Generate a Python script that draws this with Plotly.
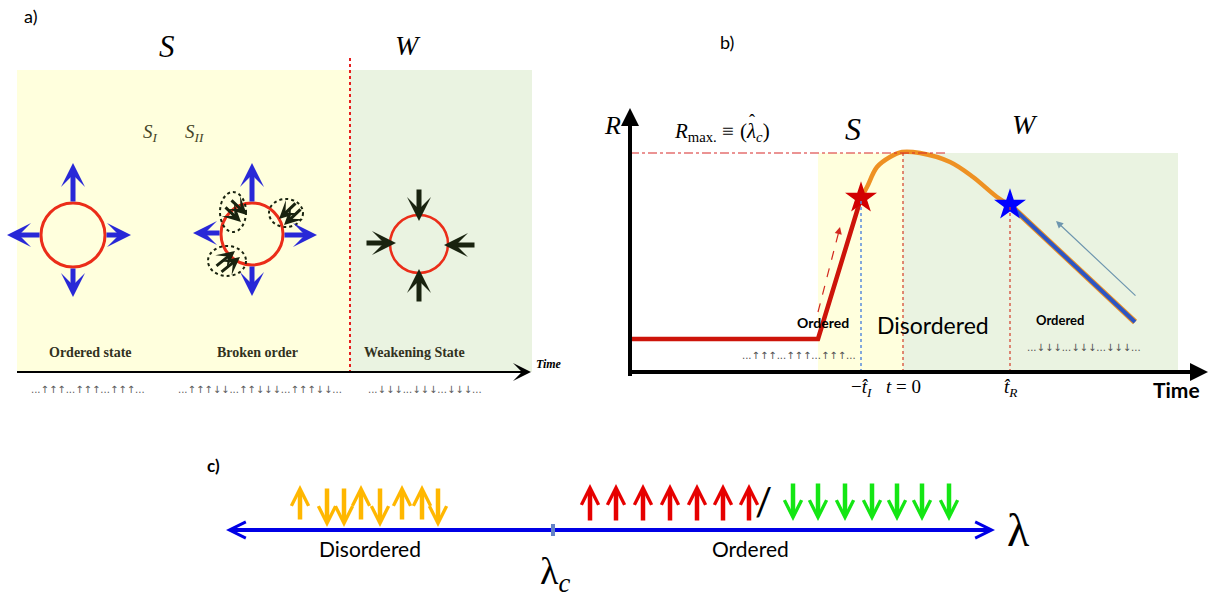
import plotly.graph_objects as go

# ---------------- data ----------------
# panel b: order parameter R versus time (arbitrary units, t = 0 at the maximum)
rise_t = [-27.3, -8.5, -4.2]
rise_R = [3.3, 3.3, 17.4]
peak_t = [-4.2, -3.6, -2.6, -1.3, -0.1, 1.7, 4.7, 7.0, 9.4, 10.7]
peak_R = [17.4, 18.5, 20.5, 21.5, 22.0, 21.9, 21.0, 19.5, 17.5, 16.7]
fall_t = [10.7, 23.2]
fall_R = [16.7, 5.0]
t_start_S, t_I, t_peak, t_R, t_end_W = -8.5, -4.2, 0.0, 10.7, 27.5
R_I, R_R, R_max = 17.4, 16.7, 21.9
tick_t = [t_I, t_peak, t_R]
tick_labels_b = ["−<i>t̂</i><sub><i>I</i></sub>", "<i>t</i> = 0", "<i>t̂</i><sub><i>R</i></sub>"]

# panel a: spin strings
spins_a = ["...↑↑↑...↑↑↑...↑↑↑...", "...↑↑↑↓↓...↑↑↓↓↓...↑↑↑↓↓...", "...↓↓↓...↓↓↓...↓↓↓..."]
labels_a = ["Ordered state", "Broken order", "Weakening State"]
# panel b spin strings
spins_b = ["...↑↑↑...↑↑↑...↑↑↑...", "...↓↓↓...↓↓↓...↓↓↓..."]

# panel c: spin configurations
disordered_spins = ["up", "down", "down", "up", "down", "up", "up", "down"]
ordered_up_spins = ["up", "up", "up", "up", "up", "up", "up"]
ordered_down_spins = ["down", "down", "down", "down", "down", "down", "down"]

# ---------------- layout constants ----------------
W, H = 1220, 604
SERIF = "Liberation Serif"
SANS = "Lato"
YEL = "rgb(255,255,221)"
GRN = "rgb(234,243,225)"

fig = go.Figure()
shapes = []
ann = []


def arrow(x0, y0, x1, y1, color, width, head=3, size=1.0, xref="x", yref="y"):
    ann.append(dict(x=x1, y=y1, ax=x0, ay=y0, xref=xref, yref=yref, axref=xref, ayref=yref,
                    showarrow=True, arrowhead=head, arrowsize=size, arrowwidth=width,
                    arrowcolor=color, text=""))


def text(x, y, s, size, family=SANS, color="black", xanchor="center", yanchor="middle", xref="x", yref="y"):
    ann.append(dict(x=x, y=y, xref=xref, yref=yref, text=s, showarrow=False,
                    font=dict(size=size, family=family, color=color), xanchor=xanchor, yanchor=yanchor))


def line(x0, y0, x1, y1, color, width, dash="solid", xref="x", yref="y", layer="above"):
    shapes.append(dict(type="line", x0=x0, y0=y0, x1=x1, y1=y1, xref=xref, yref=yref, layer=layer,
                       line=dict(color=color, width=width, dash=dash)))


def rect(x0, y0, x1, y1, fill, xref="x", yref="y"):
    shapes.append(dict(type="rect", x0=x0, y0=y0, x1=x1, y1=y1, xref=xref, yref=yref, layer="below",
                       fillcolor=fill, line=dict(width=0)))


def circle(cx, cy, rx, ry, color, width, dash="solid"):
    shapes.append(dict(type="circle", x0=cx - rx, x1=cx + rx, y0=cy - ry, y1=cy + ry, xref="x", yref="y",
                       layer="above", line=dict(color=color, width=width, dash=dash)))


# ================= panel a =================
text(30, 16, "a)", 18)
text(167, 46, "<i>S</i>", 31, SERIF)
text(408, 45, "<i>W</i>", 28, SERIF)
rect(17, 70, 350, 372, YEL)
rect(350, 70, 532, 372, GRN)
line(350, 58, 350, 372, "rgb(230,30,30)", 2, "dot")
line(17, 372, 522, 372, "black", 2)
arrow(500, 372, 531, 372, "black", 2, head=3, size=1.5)
text(549, 364, "<b><i>Time</i></b>", 12, SERIF)
text(150, 133, "<i>S</i><sub><i>I</i></sub>", 19, SERIF, "rgb(70,70,40)")
text(194, 133, "<i>S</i><sub><i>II</i></sub>", 19, SERIF, "rgb(70,70,40)")

RED = "rgb(235,45,25)"
BLUE_A = "rgb(40,40,215)"
DARK = "rgb(25,35,15)"
# ordered state
circle(73, 235, 32, 32, RED, 3)
arrow(73, 203, 73, 163, BLUE_A, 5, 3, 0.8)
arrow(73, 267, 73, 297, BLUE_A, 5, 3, 0.8)
arrow(41, 235, 7, 235, BLUE_A, 5, 3, 0.8)
arrow(105, 235, 131, 235, BLUE_A, 5, 3, 0.8)
# broken order
circle(252, 234, 31, 31, RED, 3)
arrow(252, 203, 252, 163, BLUE_A, 5, 3, 0.8)
arrow(252, 265, 252, 296, BLUE_A, 5, 3, 0.8)
arrow(221, 233, 193, 233, BLUE_A, 5, 3, 0.8)
arrow(283, 235, 317, 235, BLUE_A, 5, 3, 0.8)
circle(233, 212, 13, 20, DARK, 2, "dot")
circle(286, 213, 17, 14, DARK, 2, "dot")
circle(227, 261, 19, 15, DARK, 2, "dot")
arrow(224, 206, 241, 222, DARK, 3, 3, 1.0)
arrow(230, 199, 247, 215, DARK, 3, 3, 1.0)
arrow(297, 202, 279, 219, DARK, 3, 3, 1.0)
arrow(302, 208, 284, 225, DARK, 3, 3, 1.0)
arrow(215, 267, 235, 251, DARK, 3, 3, 1.0)
arrow(220, 273, 240, 257, DARK, 3, 3, 1.0)
# weakening state
circle(419, 244, 29, 29, RED, 2.5)
arrow(419, 188, 419, 221, DARK, 5, 3, 0.8)
arrow(419, 303, 419, 269, DARK, 5, 3, 0.8)
arrow(365, 243, 396, 243, DARK, 5, 3, 0.8)
arrow(476, 245, 444, 245, DARK, 5, 3, 0.8)

for x, s in zip([90, 257, 414], labels_a):
    text(x, 352, "<b>" + s + "</b>", 14, SERIF, "rgb(50,50,30)")
for x, s in zip([88, 260, 425], spins_a):
    text(x, 389, s, 10, "DejaVu Sans", "rgb(90,90,90)")

# ================= panel b =================
XD = [630 / W, 1205 / W]
YD = [1 - 372 / H, 1 - 118 / H]
text(727, 42, "b)", 18)
rect(t_start_S, 0, t_peak, R_max, YEL, "x2", "y2")
rect(t_peak, 0, t_end_W, R_max, GRN, "x2", "y2")
line(-27.3, R_max, 4.5, R_max, "rgb(215,40,40)", 1.2, "dashdot", "x2", "y2")
line(t_I, 0, t_I, R_I, "rgb(90,140,220)", 1.5, "dot", "x2", "y2")
line(t_peak, 0, t_peak, R_max, "rgb(210,60,40)", 1.2, "dot", "x2", "y2")
line(t_R, 0, t_R, R_R, "rgb(210,60,40)", 1.2, "dot", "x2", "y2")

fig.add_trace(go.Scatter(x=rise_t, y=rise_R, xaxis="x2", yaxis="y2", mode="lines",
                         line=dict(color="rgb(205,20,10)", width=4.5), hoverinfo="skip"))
fig.add_trace(go.Scatter(x=peak_t, y=peak_R, xaxis="x2", yaxis="y2", mode="lines", line_shape="spline",
                         line=dict(color="rgb(238,145,35)", width=4.5), hoverinfo="skip"))
fig.add_trace(go.Scatter(x=fall_t, y=fall_R, xaxis="x2", yaxis="y2", mode="lines",
                         line=dict(color="rgb(238,145,35)", width=6), hoverinfo="skip"))
fig.add_trace(go.Scatter(x=fall_t, y=fall_R, xaxis="x2", yaxis="y2", mode="lines",
                         line=dict(color="rgb(45,85,195)", width=4), hoverinfo="skip"))
fig.add_trace(go.Scatter(x=[t_I], y=[R_I], xaxis="x2", yaxis="y2", mode="markers",
                         marker=dict(symbol="star", size=24, color="rgb(210,0,0)"), hoverinfo="skip"))
fig.add_trace(go.Scatter(x=[t_R], y=[R_R], xaxis="x2", yaxis="y2", mode="markers",
                         marker=dict(symbol="star", size=24, color="rgb(0,0,255)"), hoverinfo="skip"))

# small guide arrows
line(-8.5, 6.0, -6.35, 14.3, "rgb(210,40,30)", 1.2, "dash", "x2", "y2")
arrow(-6.5, 13.7, -6.3, 14.5, "rgb(210,40,30)", 1.2, 2, 1.2, "x2", "y2")
arrow(23.4, 7.5, 15.3, 15.1, "rgb(110,150,175)", 1.2, 2, 1.2, "x2", "y2")

# axes of panel b
line(630, 376, 630, 120, "black", 4)
arrow(630, 130, 630, 108, "black", 4, 2, 0.9)
line(628, 372, 1195, 372, "black", 4)
arrow(1180, 372, 1208, 372, "black", 4, 2, 0.9)

text(612, 125, "<i>R</i>", 26, SERIF)
text(736, 132, "<i>R</i><sub>max.</sub> ≡", 21, SERIF, xanchor="right")
text(738, 132, "(<i>λ</i><sub><i>c</i></sub>)", 21, SERIF, xanchor="left")
text(752, 121, "ˆ", 18, SERIF)
text(853, 129, "<i>S</i>", 32, SERIF)
text(1025, 124, "<i>W</i>", 28, SERIF)
text(823, 322, "<b>Ordered</b>", 14, SANS)
text(933, 325, "Disordered", 23, SANS)
text(1060, 320, "<b>Ordered</b>", 13, SANS)
text(799, 355, spins_b[0], 10, "DejaVu Sans", "rgb(80,80,80)")
text(1084, 347, spins_b[1], 10, "DejaVu Sans", "rgb(80,80,80)")
for t, s in zip(tick_t, tick_labels_b):
    ann.append(dict(x=t, y=1 - 374 / H, xref="x2", yref="paper", text=s, showarrow=False,
                    yanchor="top", font=dict(size=19, family=SERIF, color="black")))
text(1176, 389, "<b>Time</b>", 21, SANS)

# ================= panel c =================
text(213, 465, "<b>c)</b>", 17, SANS)
BLUE_C = "rgb(0,0,230)"
line(234, 530, 988, 530, BLUE_C, 4)
arrow(250, 530, 226, 530, BLUE_C, 4, 5, 0.8)
arrow(970, 530, 995, 530, BLUE_C, 4, 5, 0.8)
shapes.append(dict(type="rect", x0=551, x1=555, y0=524, y1=536, xref="x", yref="y", layer="above",
                   fillcolor="rgb(100,130,200)", line=dict(width=0)))
ORANGE = "rgb(255,183,0)"
dis_x = [300, 327, 344, 361, 380, 402, 422, 438]
for x, s in zip(dis_x, disordered_spins):
    if s == "up":
        arrow(x, 521, x, 485, ORANGE, 4.5, 5, 0.75)
    else:
        arrow(x, 487, x, 527, ORANGE, 4.5, 5, 0.75)
up_x = [590, 616, 643, 670, 697, 723, 749]
for x, s in zip(up_x, ordered_up_spins):
    arrow(x, 522, x, 484, "rgb(230,0,0)", 4.5, 5, 0.75)
down_x = [793, 818, 845, 872, 897, 922, 949]
for x, s in zip(down_x, ordered_down_spins):
    arrow(x, 482, x, 521, "rgb(20,230,20)", 4.5, 5, 0.75)
text(763, 501, "/", 38, SANS)
text(370, 548, "Disordered", 21, SANS)
text(750, 548, "Ordered", 21, SANS)
text(1018, 530, "λ", 46, SERIF)
text(555, 574, "λ<sub><i>c</i></sub>", 38, SERIF)

fig.update_layout(
    width=W, height=H, margin=dict(l=0, r=0, t=0, b=0),
    paper_bgcolor="white", plot_bgcolor="rgba(0,0,0,0)", showlegend=False,
    xaxis=dict(range=[0, W], domain=[0, 1], visible=False, fixedrange=True),
    yaxis=dict(range=[H, 0], domain=[0, 1], visible=False, fixedrange=True),
    xaxis2=dict(range=[-27.3, 30.2], domain=XD, anchor="y2", visible=False, fixedrange=True),
    yaxis2=dict(range=[0, 25.4], domain=YD, anchor="x2", visible=False, fixedrange=True),
    shapes=shapes, annotations=ann,
)
fig.write_html("out.html")
